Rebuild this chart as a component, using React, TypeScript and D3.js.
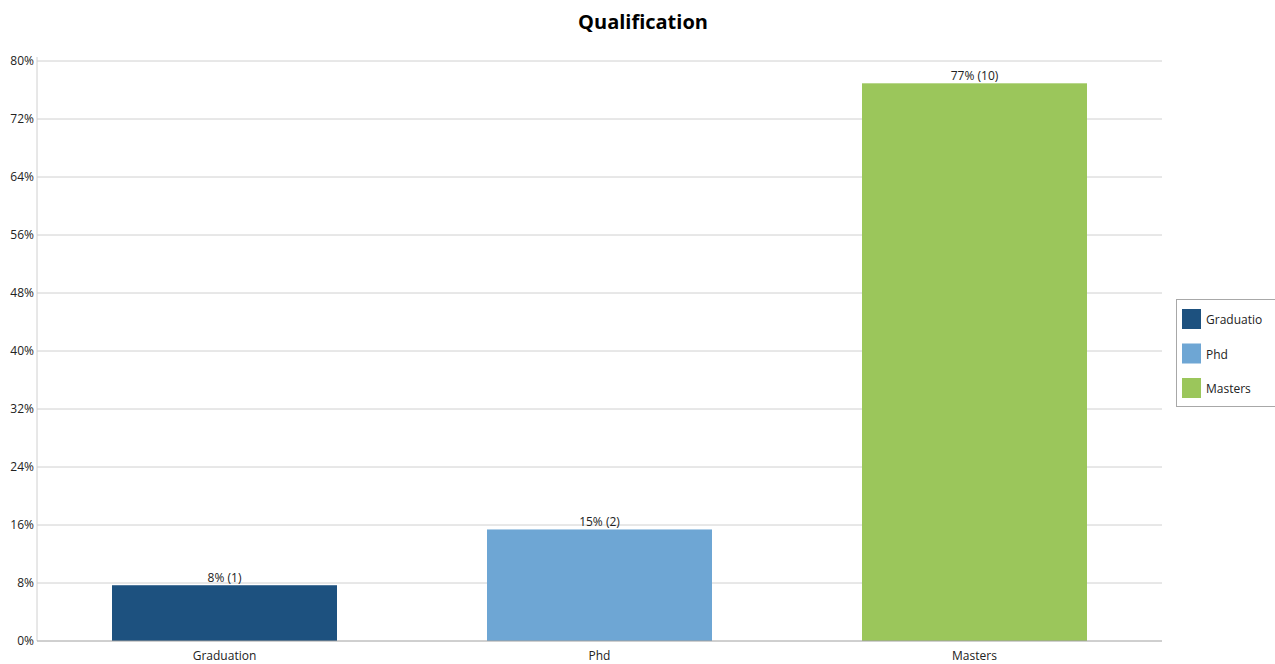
import React from "react";
import * as d3 from "d3";

const categories = ["Graduation", "Phd", "Masters"];
const legendLabels = ["Graduatio", "Phd", "Masters"];
const counts = [1, 2, 10];
const percents = [100 / 13, 200 / 13, 1000 / 13];
const colors = ["#1d517f", "#6ea6d4", "#9bc65b"];
const yTicks = [0, 8, 16, 24, 32, 40, 48, 56, 64, 72, 80];
const title = "Qualification";

const W = 1275;
const H = 664;
const M = { left: 37, right: 1162, top: 61, bottom: 641 };
const FONT = "'Open Sans', 'Noto Sans', sans-serif";

export default function App() {
  const x = d3.scaleBand<string>().domain(categories).range([M.left, M.right]).paddingInner(0.4).paddingOuter(0.2);
  const y = d3.scaleLinear().domain([0, 80]).range([M.bottom, M.top]);
  return (
    <svg width={W} height={H} style={{ position: "absolute", left: 0, top: 0, background: "#fff" }}>
      <text x={643} y={29} textAnchor="middle" fontFamily={FONT} fontWeight="bold" fontSize={20} fill="#000">
        {title}
      </text>
      {yTicks.map((t) => (
        <g key={t}>
          {t > 0 && <line x1={M.left} x2={M.right} y1={y(t)} y2={y(t)} stroke="#d0d0d0" strokeWidth={1} />}
          <text x={34} y={y(t) + 4} textAnchor="end" fontFamily={FONT} fontSize={12} fill="#222">
            {t}%
          </text>
        </g>
      ))}
      <line x1={M.left} x2={M.left} y1={M.top - 4} y2={M.bottom} stroke="#d0d0d0" />
      {categories.map((c, i) => (
        <g key={c}>
          <rect x={x(c)} y={y(percents[i])} width={x.bandwidth()} height={y(0) - y(percents[i])} fill={colors[i]} />
          <text x={x(c)! + x.bandwidth() / 2} y={y(percents[i]) - 3} textAnchor="middle" fontFamily={FONT} fontSize={12} fill="#222">
            {Math.round(percents[i])}% ({counts[i]})
          </text>
          <text x={x(c)! + x.bandwidth() / 2} y={660} textAnchor="middle" fontFamily={FONT} fontSize={12} fill="#222">
            {c}
          </text>
        </g>
      ))}
      <line x1={M.left} x2={M.right} y1={M.bottom} y2={M.bottom} stroke="#a0a0a0" />
      <g>
        <rect x={1176.5} y={299.5} width={110} height={107} fill="#fff" stroke="#a8a8a8" />
        {legendLabels.map((l, i) => (
          <g key={l}>
            <rect x={1182} y={309 + i * 34.5} width={19} height={20} fill={colors[i]} />
            <text x={1206} y={324 + i * 34.5} fontFamily={FONT} fontSize={12} fill="#222">
              {l}
            </text>
          </g>
        ))}
      </g>
    </svg>
  );
}
